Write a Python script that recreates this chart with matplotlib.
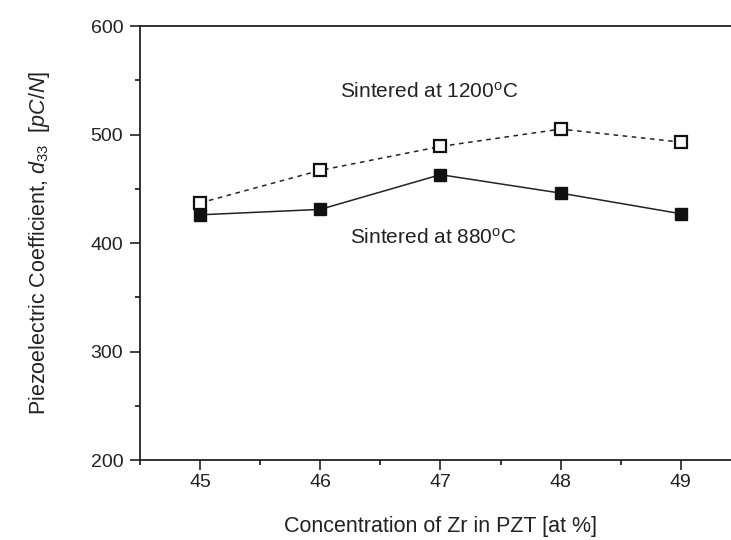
import matplotlib

matplotlib.use("Agg")
import matplotlib.pyplot as plt
from matplotlib.ticker import MultipleLocator

plt.rcParams["font.family"] = ["Liberation Sans", "DejaVu Sans"]
plt.rcParams["mathtext.fontset"] = "custom"
plt.rcParams["mathtext.it"] = "Liberation Sans:italic"
plt.rcParams["mathtext.rm"] = "Liberation Sans"

# Zr content [at %] and d33 [pC/N] for the two sintering temperatures
zr = [45, 46, 47, 48, 49]
d33_1200 = [437, 467, 489, 505, 493]
d33_880 = [426, 431, 463, 446, 427]

fig = plt.figure(figsize=(7.31, 5.40), dpi=100)
# axes run slightly past the right edge, so the right frame line falls outside
ax = fig.add_axes([0.1915, 0.1481, 0.822, 0.8037])

ax.plot(zr, d33_1200, ls=(0, (3, 3)), color="#222222", lw=1.1,
        marker="s", ms=8.5, mfc="white", mec="#111111", mew=1.6)
ax.plot(zr, d33_880, ls="-", color="#222222", lw=1.1,
        marker="s", ms=8.5, mfc="#111111", mec="#111111")

ax.text(340, 448, "Sintered at 1200$^{\\mathrm{o}}$C", transform=None,
        fontsize=15, color="#222222", va="center")
ax.text(350, 302, "Sintered at 880$^{\\mathrm{o}}$C", transform=None,
        fontsize=15, color="#222222", va="center")

ax.set_xlim(44.5, 49.5)
ax.set_ylim(200, 600)
ax.xaxis.set_major_locator(MultipleLocator(1))
ax.xaxis.set_minor_locator(MultipleLocator(0.5))
ax.yaxis.set_major_locator(MultipleLocator(100))
ax.yaxis.set_minor_locator(MultipleLocator(50))
ax.tick_params(which="major", direction="out", length=7, width=1.2,
               labelsize=14, colors="#222222")
ax.tick_params(which="minor", direction="out", length=3.5, width=1.1)
ax.tick_params(axis="x", pad=3)
ax.tick_params(axis="y", pad=5)

for side in ("left", "bottom", "top"):
    ax.spines[side].set_linewidth(1.3)
    ax.spines[side].set_color("#222222")
ax.spines["right"].set_visible(False)

ax.set_ylabel("Piezoelectric Coefficient, $d_{33}$  [$pC/N$]",
              fontsize=15.5, color="#222222", labelpad=28)
ax.set_xlabel("Concentration of Zr in PZT [at %]",
              fontsize=15.5, color="#222222", labelpad=18)

fig.savefig("out.png", dpi=100)
